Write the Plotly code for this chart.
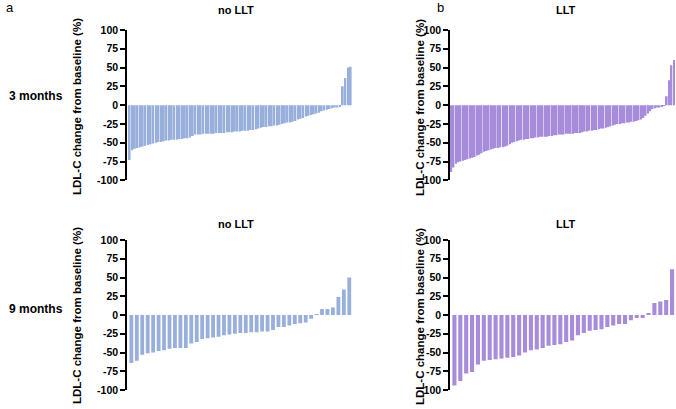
import plotly.graph_objects as go

# ---- data ----
tick_vals = [100, 75, 50, 25, 0, -25, -50, -75, -100]
tick_text = ["100", "75", "50", "25", "0", "-25", "-50", "-75", "-100"]

m3_no_llt = [-73, -60, -58, -57, -56, -55, -54, -53, -52, -51, -50, -49, -49, -48, -47, -47,
             -46, -46, -46, -45, -45, -44, -44, -43, -41, -39, -39, -39, -38, -38, -38, -38,
             -38, -37, -37, -37, -37, -36, -36, -36, -35, -35, -35, -34, -34, -34, -33, -33,
             -32, -31, -30, -29, -29, -28, -28, -27, -27, -26, -25, -24, -23, -23, -22, -21,
             -19, -18, -17, -15, -14, -13, -12, -11, -10, -8, -7, -6, -5, -4, -3, -3, -2,
             25, 36, 50, 51]

m3_llt = [-89, -83, -78, -76, -75, -74, -73, -72, -71, -70, -69, -67, -66, -64, -62, -61,
          -60, -59, -58, -57, -57, -56, -56, -55, -54, -52, -50, -49, -48, -47, -46, -46,
          -45, -45, -44, -44, -43, -43, -42, -42, -42, -42, -41, -41, -40, -40, -39, -39,
          -39, -38, -38, -38, -38, -37, -37, -37, -36, -35, -35, -34, -34, -33, -33, -32,
          -31, -31, -30, -29, -28, -27, -26, -25, -25, -24, -24, -23, -23, -22, -22, -21,
          -20, -19, -17, -14, -11, -8, -5, -4, -3, -3, -2, -1,
          12, 33, 53, 60]

m9_no_llt = [-64, -61, -53, -51, -50, -48, -47, -45, -44, -44, -44, -38, -36, -32, -31, -30,
             -29, -27, -26, -25, -24, -24, -23, -23, -22, -22, -20, -16, -16, -14, -12, -11,
             -10, -5, 1, 8, 8, 10, 24, 34, 50]

m9_llt = [-94, -88, -78, -76, -66, -61, -60, -59, -58, -57, -56, -54, -50, -47, -46, -44,
          -41, -40, -39, -36, -34, -27, -24, -21, -20, -19, -16, -14, -12, -12, -7, -4, -4,
          2, 16, 18, 20, 61]

BLUE = "#98afdb"
PURPLE = "#a78cdc"
FONT = "Liberation Sans, Arial, sans-serif"

W, H = 676, 409


def px_x(p):
    return p / W


def px_y(p):
    return 1 - p / H


panels = [
    # values, color, axis suffix, x-domain px, y-domain px (top, bottom), x range start
    (m3_no_llt, BLUE, "", (127, 352), (30, 180.3), -1.0),
    (m3_llt, PURPLE, "2", (450, 675), (30, 180.3), -0.55),
    (m9_no_llt, BLUE, "3", (127, 352), (240, 390), -0.8),
    (m9_llt, PURPLE, "4", (450, 675), (240, 390), -0.75),
]

fig = go.Figure()
layout = {}
for vals, col, sfx, (x0, x1), (yt, yb), xr0 in panels:
    fig.add_trace(go.Bar(
        x=list(range(len(vals))), y=vals,
        marker=dict(color=col, line=dict(width=0)),
        xaxis="x" + sfx, yaxis="y" + sfx, showlegend=False,
    ))
    layout["xaxis" + sfx] = dict(
        domain=[px_x(x0), px_x(x1)], range=[xr0, len(vals) - 0.5],
        showline=False, showticklabels=False, ticks="", showgrid=False,
        zeroline=False, anchor="y" + sfx, automargin=False, fixedrange=True,
    )
    layout["yaxis" + sfx] = dict(
        domain=[px_y(yb), px_y(yt)], range=[-100, 100],
        tickvals=tick_vals, ticktext=tick_text,
        showline=True, linecolor="black", linewidth=1.6,
        ticks="outside", ticklen=5, tickwidth=1.6, tickcolor="black",
        tickfont=dict(family=FONT, size=10.5, color="black", weight="bold"),
        showgrid=False, zeroline=False, anchor="x" + sfx, automargin=False,
        fixedrange=True,
    )

ann = []


def text(s, x, y, size, bold=True, angle=0, xanchor="center"):
    ann.append(dict(
        text=s, x=px_x(x), y=px_y(y), xref="paper", yref="paper",
        showarrow=False, xanchor=xanchor, yanchor="middle", textangle=angle,
        font=dict(family=FONT, size=size, color="black",
                  weight="bold" if bold else "normal"),
    ))


text("a", 10, 8, 13, bold=False)
text("b", 440, 8, 13, bold=False)
text("no LLT", 236, 10, 11)
text("LLT", 566, 10, 11)
text("no LLT", 236, 224, 11)
text("LLT", 566, 224, 11)
text("3 months", 7, 96, 12, xanchor="left")
text("9 months", 7, 309, 12, xanchor="left")
text("LDL-C change from baseline (%)", 77, 107, 11.5, angle=-90)
text("LDL-C change from baseline (%)", 420, 107, 11.5, angle=-90)
text("LDL-C change from baseline (%)", 77, 316, 11.5, angle=-90)
text("LDL-C change from baseline (%)", 420, 316, 11.5, angle=-90)

fig.update_layout(
    width=W, height=H, margin=dict(l=0, r=0, t=0, b=0),
    paper_bgcolor="white", plot_bgcolor="white",
    bargap=0.3, annotations=ann, template="none",
    **layout,
)

fig.write_html("out.html", config={"displayModeBar": False},
               post_script="document.body.style.margin='0';")
